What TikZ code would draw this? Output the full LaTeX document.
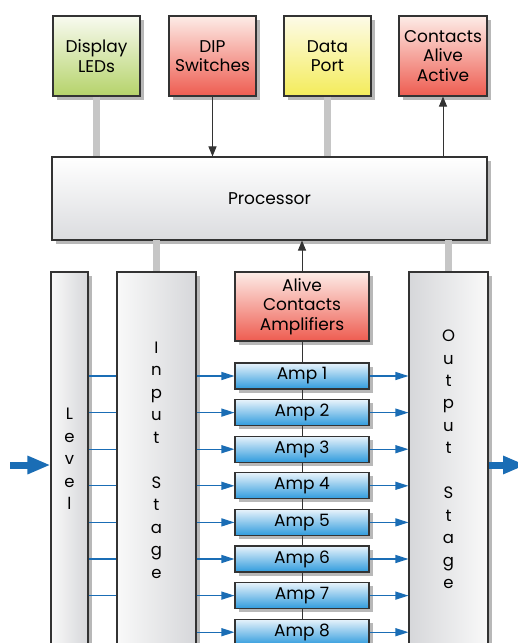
\documentclass[tikz,border=0pt]{standalone}
\usepackage{fontspec}
\setmainfont{Poppins}
\usetikzlibrary{arrows.meta,shadows,calc}
\definecolor{edge}{HTML}{333333}
\definecolor{bluel}{HTML}{1A6DB5}
\definecolor{grayc}{HTML}{C6C6C6}
\definecolor{ledT}{HTML}{F8FAF0}\definecolor{ledB}{HTML}{B5D36A}
\definecolor{redT}{HTML}{FDECE7}\definecolor{redB}{HTML}{EE5C50}
\definecolor{yelT}{HTML}{FDFBE8}\definecolor{yelB}{HTML}{F4EC5A}
\definecolor{procB}{HTML}{DBDCDF}
\definecolor{ampT}{HTML}{E8F3FB}\definecolor{ampB}{HTML}{2F9BDD}
\definecolor{colD}{HTML}{D6D7DA}\definecolor{colL}{HTML}{F9F9F9}
\tikzset{
  box/.style={draw=edge,line width=1.1pt,rectangle,align=center,inner sep=0pt,
    font=\fontsize{17}{19.5}\selectfont,
    drop shadow={shadow xshift=3.5pt,shadow yshift=-3.5pt,fill=black,opacity=0.28}},
  topbox/.style={box,minimum width=87pt,minimum height=80pt},
  col/.style={box,minimum height=430pt},
  vtext/.style={align=center,inner sep=0pt,font=\fontsize{16.5}{22.5}\selectfont},
  graylink/.style={draw=grayc,line width=7pt},
  blackarrow/.style={draw=edge,line width=1pt,-{Triangle[length=10pt,width=8pt]}},
  bluearrow/.style={draw=bluel,line width=1.2pt,-{Triangle[length=13pt,width=8pt]}},
  blueline/.style={draw=bluel,line width=1.2pt},
  bigarrow/.style={draw=bluel,line width=7pt,-{Triangle[length=23pt,width=17pt]}}
}
\begin{document}
\begin{tikzpicture}[x=1pt,y=-1pt]
\clip (0,0) rectangle (518,643);
\fill[white] (0,0) rectangle (518,643);
% top row
\node[topbox,top color=ledT,bottom color=ledB] (leds) at (96.5,56) {Display\\LEDs};
\node[topbox,top color=redT,bottom color=redB] (dip) at (212.5,56) {DIP\\Switches};
\node[topbox,top color=yelT,bottom color=yelB] (data) at (327.5,56) {Data\\Port};
\node[topbox,minimum width=88pt,top color=redT,bottom color=redB] (contacts) at (443,56) {Contacts\\Alive\\Active};
% processor
\node[box,minimum width=435pt,minimum height=83pt,top color=white,bottom color=procB] (proc) at (269.5,198.5) {Processor};
% links top
\draw[graylink] (leds.south) -- (leds.south |- proc.north);
\draw[graylink] (data.south) -- (data.south |- proc.north);
\draw[blackarrow] (dip.south) -- (dip.south |- proc.north);
\draw[blackarrow] (contacts.south |- proc.north) -- (contacts.south);
% columns
\draw[graylink] (156.5,240) -- (156.5,274);
\draw[graylink] (448.5,240) -- (448.5,274);
\node[col,minimum width=37pt,left color=colL,right color=colD] (level) at (69.5,487) {};
\node[col,minimum width=79pt,left color=colL,right color=colD] (input) at (156.5,487) {};
\node[col,minimum width=79pt,left color=colD,right color=colL] (output) at (448.5,487) {};
\node[vtext] (leveltext) at (69.5,459) {L\\e\\v\\e\\l};
\node[vtext] (inputtext) at (156.5,460) {I\\n\\p\\u\\t\\[22.5pt]S\\t\\a\\g\\e};
\node[vtext] (outputtext) at (448.5,459.5) {O\\u\\t\\p\\u\\t\\[22.5pt]S\\t\\a\\g\\e};
% alive contacts amplifiers
\node[box,minimum width=134pt,minimum height=69pt,top color=redT,bottom color=redB] (alive) at (302,306.5) {Alive\\Contacts\\Amplifiers};
\draw[blackarrow] (alive.north) -- (alive.north |- proc.south);
% amps
\foreach \i in {1,...,8}{
  \node[box,minimum width=134pt,minimum height=26pt,top color=ampT,bottom color=ampB] (amp\i) at (302,{376+36.6*(\i-1)}) {Amp \i};
  \draw[bluearrow] (amp\i.west -| input.east) -- (amp\i.west);
  \draw[bluearrow] (amp\i.east) -- (amp\i.east -| output.west);
}
\foreach \i in {1,...,7}{
  \draw[blueline] (amp\i.west -| level.east) -- (amp\i.west -| input.west);
}
\draw[edge,line width=1pt] (alive.south) -- (amp1.north);
\foreach \i/\j in {1/2,2/3,3/4,4/5,5/6,6/7,7/8}{
  \draw[edge,line width=1pt] (amp\i.south) -- (amp\j.north);
}
% big arrows
\coordinate (inpt) at (10,465);
\coordinate (outpt) at (526,465);
\draw[bigarrow] (inpt) -- (inpt -| level.west);
\draw[bigarrow] (output.east |- outpt) -- (outpt);
\end{tikzpicture}
\end{document}
